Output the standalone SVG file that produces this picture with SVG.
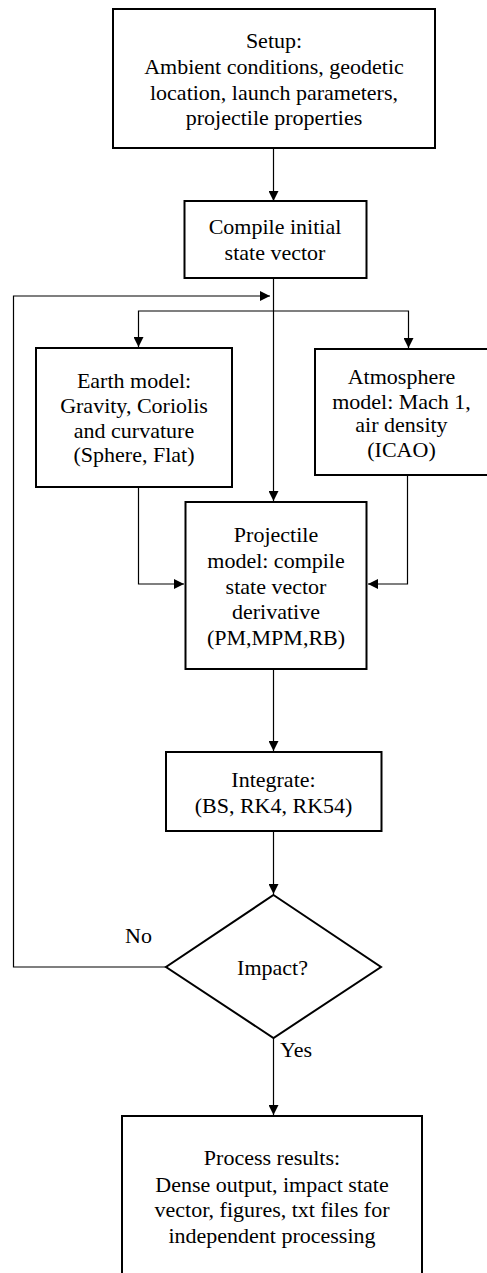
<svg xmlns="http://www.w3.org/2000/svg" width="487" height="1273" viewBox="0 0 487 1273" font-family="Liberation Serif, DejaVu Serif, serif">
  <defs>
    <marker id="arrow" viewBox="0 0 10 10" refX="10" refY="5" markerWidth="10" markerHeight="10" markerUnits="userSpaceOnUse" orient="auto">
      <path d="M0,0 L10,5 L0,10 Z" fill="#000"/>
    </marker>
    <style>
      .box { fill: #fff; stroke: #000; stroke-width: 2; }
      .conn { fill: none; stroke: #000; stroke-width: 1.2; }
      .t { font-size: 22px; fill: #000; text-anchor: middle; }
      .lbl { font-size: 22px; fill: #000; text-anchor: start; }
    </style>
  </defs>
  <rect width="487" height="1273" fill="#fff"/>

  <!-- connectors -->
  <g id="connectors">
    <line class="conn" x1="273.5" y1="148" x2="273.5" y2="201" marker-end="url(#arrow)"/>
    <line class="conn" x1="273.5" y1="278" x2="273.5" y2="501" marker-end="url(#arrow)"/>
    <polyline class="conn" points="273.5,311 138.5,311 138.5,347" marker-end="url(#arrow)"/>
    <polyline class="conn" points="273.5,311 408.5,311 408.5,348" marker-end="url(#arrow)"/>
    <polyline class="conn" points="138.5,487 138.5,584 184,584" marker-end="url(#arrow)"/>
    <polyline class="conn" points="407.5,475 407.5,584 368,584" marker-end="url(#arrow)"/>
    <line class="conn" x1="273.5" y1="669" x2="273.5" y2="751" marker-end="url(#arrow)"/>
    <line class="conn" x1="273.5" y1="831" x2="273.5" y2="894" marker-end="url(#arrow)"/>
    <line class="conn" x1="273.5" y1="1038" x2="273.5" y2="1115" marker-end="url(#arrow)"/>
    <polyline class="conn" points="166,967 13.5,967 13.5,296 270,296" marker-end="url(#arrow)"/>
    <text class="lbl" x="125" y="943">No</text>
    <text class="lbl" x="280" y="1057">Yes</text>
  </g>

  <g id="setup" class="t">
    <rect class="box" x="113" y="9" width="322" height="139"/>
    <text x="274" y="48">Setup:</text>
    <text x="274" y="74">Ambient conditions, geodetic</text>
    <text x="274" y="99.5">location, launch parameters,</text>
    <text x="274" y="125">projectile properties</text>
  </g>

  <g id="compile" class="t">
    <rect class="box" x="184.5" y="201" width="182" height="77"/>
    <text x="275" y="234">Compile initial</text>
    <text x="275" y="260">state vector</text>
  </g>

  <g id="earth" class="t">
    <rect class="box" x="36" y="348" width="196" height="139"/>
    <text x="134" y="388">Earth model:</text>
    <text x="134" y="413">Gravity, Coriolis</text>
    <text x="134" y="438">and curvature</text>
    <text x="134" y="462">(Sphere, Flat)</text>
  </g>

  <g id="atmosphere" class="t">
    <rect class="box" x="315" y="349" width="180" height="126"/>
    <text x="401.5" y="383.5">Atmosphere</text>
    <text x="401.5" y="408.5">model: Mach 1,</text>
    <text x="401.5" y="432">air density</text>
    <text x="401.5" y="457">(ICAO)</text>
  </g>

  <g id="projectile" class="t">
    <rect class="box" x="185.5" y="502" width="181" height="167"/>
    <text x="276" y="542">Projectile</text>
    <text x="276" y="568">model: compile</text>
    <text x="276" y="593.5">state vector</text>
    <text x="276" y="619">derivative</text>
    <text x="276" y="645">(PM,MPM,RB)</text>
  </g>

  <g id="integrate" class="t">
    <rect class="box" x="166" y="752" width="215.5" height="79"/>
    <text x="273.5" y="787">Integrate:</text>
    <text x="273.5" y="812.5">(BS, RK4, RK54)</text>
  </g>

  <g id="impact" class="t">
    <polygon class="box" points="273.5,895 381,967 273.5,1038 166,967"/>
    <text x="272.5" y="975">Impact?</text>
  </g>

  <g id="results" class="t">
    <rect class="box" x="122" y="1116" width="300" height="180"/>
    <text x="272" y="1165">Process results:</text>
    <text x="272" y="1191.5">Dense output, impact state</text>
    <text x="272" y="1217">vector, figures, txt files for</text>
    <text x="272" y="1242.5">independent processing</text>
  </g>
</svg>
